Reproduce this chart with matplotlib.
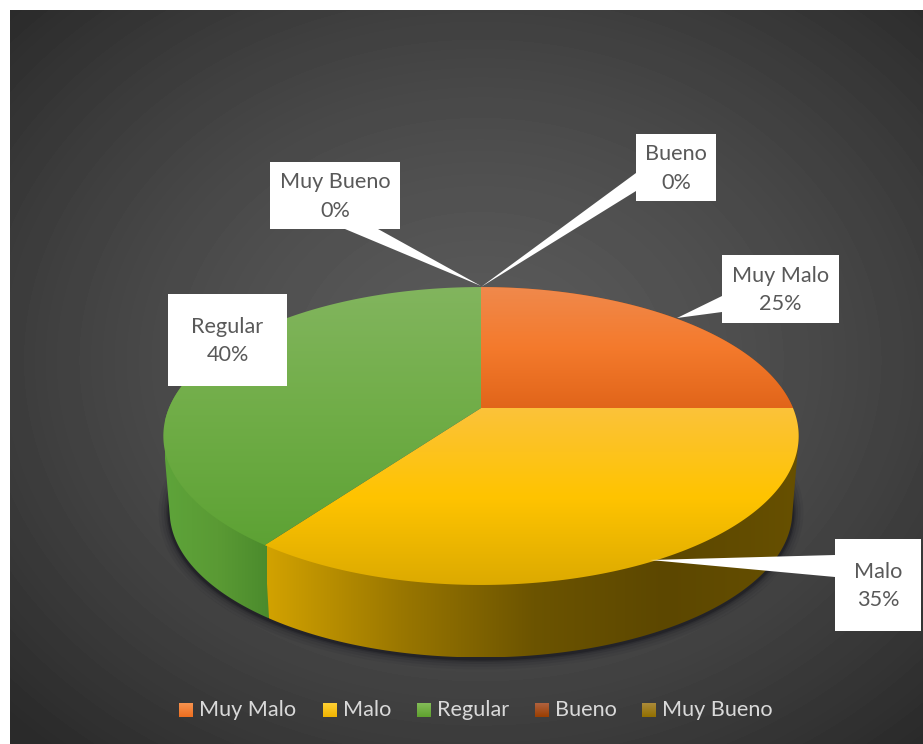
#!/usr/bin/env python3
import matplotlib.pyplot as plt
import numpy as np
from matplotlib.colors import LinearSegmentedColormap
from matplotlib.patches import Polygon, Rectangle

categories = ["Muy Malo", "Malo", "Regular", "Bueno", "Muy Bueno"]
values = [25, 35, 40, 0, 0]

W, H = 923, 744
FONT = "Lato"
TEXT_PX = 21.7

# projective view of the pie disc, in pixels
CX, CY = 481, 408
RX, RY, TILT = 312.0, 143.7, 0.188
DEPTH_SCALE, DEPTH_CY = 0.98, 484

top_stops = {
    "Muy Malo": ["#f0894c", "#f47a2c", "#e1651a"],
    "Malo": ["#fbc23a", "#ffc400", "#dcaa00"],
    "Regular": ["#82b55e", "#70ad47", "#5da234"],
}
side_stops = {
    "Muy Malo": (["#a04f16", "#a04f16"], 481, 800),
    "Malo": (["#d2a200", "#9a7700", "#6c5400", "#5c4700", "#675000"], 267, 800),
    "Regular": (["#5ea43a", "#5a9a34", "#4a8a2c"], 165, 272),
}
legend_stops = {
    "Muy Malo": ("#f7934f", "#ed6e1f"),
    "Malo": ("#ffd034", "#f0b400"),
    "Regular": ("#83bd58", "#5fa02e"),
    "Bueno": ("#b0623f", "#9a3e00"),
    "Muy Bueno": ("#ab8a3a", "#927000"),
}

# box (x0, y0, x1, y1) and leader triangle for each data label
label_boxes = {
    "Muy Malo": ((722, 255, 839, 323), [(722, 296), (722, 312), (677, 318)]),
    "Malo": ((835, 539, 921, 631), [(835, 555), (835, 577), (650, 560)]),
    "Regular": ((168, 294, 287, 386), None),
    "Bueno": ((636, 134, 716, 201), [(636, 173), (636, 191), (481, 287)]),
    "Muy Bueno": ((270, 162, 400, 229), [(345, 229), (378, 229), (481, 286)]),
}
legend_pos = {
    "Muy Malo": (179, 199),
    "Malo": (323, 343),
    "Regular": (417, 437),
    "Bueno": (535, 555),
    "Muy Bueno": (642, 662),
}


def disc_points(start_frac, end_frac, n=160, scale=1.0, cy=CY):
    # fractions run clockwise from the top of the pie
    theta = 2 * np.pi * np.linspace(start_frac, end_frac, n)
    u, v = np.sin(theta), np.cos(theta)
    w = 1 + TILT * v
    x = CX + scale * RX * u / w
    y = cy - scale * RY * v / w
    return np.column_stack([x, y])


def convex_hull(xy):
    pts = sorted(map(tuple, xy))

    def half(points):
        out = []
        for p in points:
            while len(out) >= 2:
                a, b = out[-2], out[-1]
                if (b[0] - a[0]) * (p[1] - a[1]) - (b[1] - a[1]) * (p[0] - a[0]) > 0:
                    break
                out.pop()
            out.append(p)
        return out[:-1]

    return np.array(half(pts) + half(pts[::-1]))


def gradient_fill(ax, xy, colors, vertical=True, span=None, zorder=2):
    poly = Polygon(xy, closed=True, transform=ax.transData, facecolor="none", edgecolor="none")
    ax.add_patch(poly)
    cmap = LinearSegmentedColormap.from_list("fill", colors)
    ramp = np.linspace(0, 1, 256)
    x0, y0 = xy.min(axis=0)
    x1, y1 = xy.max(axis=0)
    if vertical:
        extent = (x0, x1, y1, y0)
        data = ramp[:, None]
    else:
        lo, hi = span if span else (x0, x1)
        extent = (lo, hi, y1, y0)
        data = ramp[None, :]
    im = ax.imshow(data, cmap=cmap, extent=extent, aspect="auto", origin="upper",
                   vmin=0, vmax=1, zorder=zorder, interpolation="bilinear")
    im.set_clip_path(poly)


def draw_background(ax):
    yy, xx = np.mgrid[10:H, 10:W]
    r = np.sqrt(((xx - 480) / 650.0) ** 2 + ((yy - 360) / 520.0) ** 2)
    level = 90 - 48 * np.clip(r, 0, 1) ** 1.5
    ax.imshow(level, cmap="gray", vmin=0, vmax=255, extent=(10, W, H, 10),
              aspect="auto", zorder=0)


def main():
    fig = plt.figure(figsize=(W / 100, H / 100), dpi=100, facecolor="white")
    ax = fig.add_axes([0, 0, 1, 1])
    ax.axis("off")

    draw_background(ax)

    # soft shadow hugging the lower rim
    rim = disc_points(0, 1, n=400, scale=DEPTH_SCALE, cy=DEPTH_CY + 1)
    for lw, alpha in [(16, 0.06), (12, 0.08), (8, 0.12), (5, 0.18), (3, 0.3)]:
        ax.add_patch(Polygon(rim, closed=True, facecolor="none", edgecolor="#0c0c14",
                             linewidth=lw, alpha=alpha, zorder=1))

    total = sum(values)
    fracs = np.cumsum([0] + values) / total

    # sides first, the top faces cover whatever is hidden; Malo goes last so
    # its front wall sits over the others
    for name in ["Muy Malo", "Regular", "Malo"]:
        i = categories.index(name)
        upper = disc_points(fracs[i], fracs[i + 1])
        lower = disc_points(fracs[i], fracs[i + 1], scale=DEPTH_SCALE, cy=DEPTH_CY)
        stops, lo, hi = side_stops[name]
        gradient_fill(ax, convex_hull(np.vstack([upper, lower])), stops, vertical=False,
                      span=(lo, hi), zorder=2)

    for i, name in enumerate(categories):
        if values[i] == 0:
            continue
        arc = disc_points(fracs[i], fracs[i + 1])
        gradient_fill(ax, np.vstack([[CX, CY], arc]), top_stops[name], zorder=3 + i * 0.1)

    for i, name in enumerate(categories):
        (x0, y0, x1, y1), leader = label_boxes[name]
        if leader:
            ax.add_patch(Polygon(leader, closed=True, facecolor="white", edgecolor="none", zorder=5))
        ax.add_patch(Rectangle((x0, y0), x1 - x0, y1 - y0, facecolor="white", edgecolor="none", zorder=5))
        ax.text((x0 + x1) / 2, (y0 + y1) / 2 + 1, f"{name}\n{values[i]}%", ha="center", va="center",
                color="#595959", family=FONT, fontsize=TEXT_PX * 0.72, linespacing=1.55, zorder=6)

    for name in categories:
        sq_x, text_x = legend_pos[name]
        square = np.array([[sq_x, 703], [sq_x + 14, 703], [sq_x + 14, 717], [sq_x, 717]], dtype=float)
        gradient_fill(ax, square, legend_stops[name], zorder=4)
        ax.text(text_x, 710, name, ha="left", va="center", color="#d9d9d9",
                family=FONT, fontsize=TEXT_PX * 0.72, zorder=6)

    ax.set_xlim(0, W)
    ax.set_ylim(H, 0)
    fig.savefig("out.png", dpi=100, facecolor="white")
    plt.close(fig)


if __name__ == "__main__":
    main()
